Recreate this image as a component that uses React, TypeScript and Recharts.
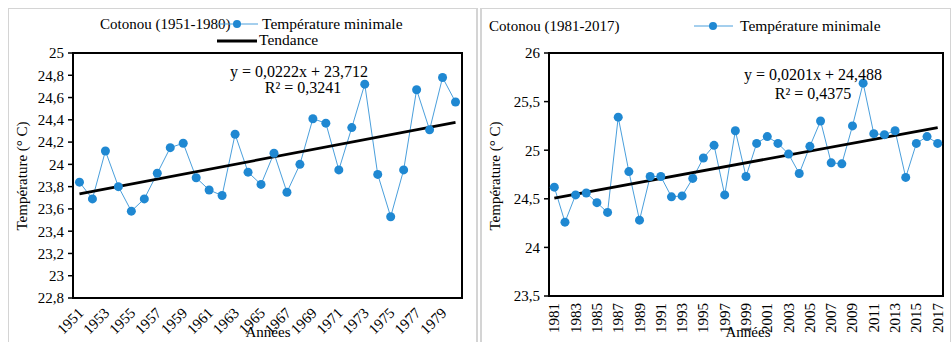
import React from 'react';
import { LineChart, Line, XAxis, YAxis, ReferenceArea, ReferenceLine } from 'recharts';

const SERIF = '"Liberation Serif", "DejaVu Serif", "Times New Roman", Times, serif';
const DOT_BLUE = '#1f88d2';
const LINE_BLUE = '#4a9fdc';

// Cotonou, annual minimum temperature (°C)
const yearsEarly = Array.from({ length: 30 }, (_, i) => 1951 + i);
const tminEarly = [
  23.84, 23.69, 24.12, 23.8, 23.58, 23.69, 23.92, 24.15, 24.19, 23.88,
  23.77, 23.72, 24.27, 23.93, 23.82, 24.1, 23.75, 24.0, 24.41, 24.37,
  23.95, 24.33, 24.72, 23.91, 23.53, 23.95, 24.67, 24.31, 24.78, 24.56,
];
const yearsLate = Array.from({ length: 37 }, (_, i) => 1981 + i);
const tminLate = [
  24.62, 24.26, 24.54, 24.56, 24.46, 24.36, 25.34, 24.78, 24.28, 24.73,
  24.73, 24.52, 24.53, 24.71, 24.92, 25.05, 24.54, 25.2, 24.73, 25.07,
  25.14, 25.07, 24.96, 24.76, 25.04, 25.3, 24.87, 24.86, 25.25, 25.69,
  25.17, 25.16, 25.2, 24.72, 25.07, 25.14, 25.07,
];

// linear fits as printed on each chart (x = 1, 2, ... n)
const fitEarly = { slope: 0.0222, intercept: 23.712 };
const fitLate = { slope: 0.0201, intercept: 24.488 };

const yTicksEarly = [22.8, 23, 23.2, 23.4, 23.6, 23.8, 24, 24.2, 24.4, 24.6, 24.8, 25];
const yTicksLate = [23.5, 24, 24.5, 25, 25.5, 26];
const xLabelsEarly = yearsEarly.filter((y) => y % 2 === 1);
const xLabelsLate = yearsLate.filter((y) => y % 2 === 1);

const fmt = (v: number) => (Number.isInteger(v) ? String(v) : v.toFixed(1).replace('.', ','));

const txt: React.CSSProperties = { fontFamily: SERIF };

const SlantTick = ({ x, y, payload }: any) => {
  const px = x + 5;
  const py = y + 16;
  return (
    <text x={px} y={py} transform={`rotate(-45 ${px} ${py})`} textAnchor="end" style={txt} fontSize={15} fill="#000">
      {payload.value}
    </text>
  );
};

const UprightTick = ({ x, y, payload }: any) => {
  const px = x + 5;
  const py = y + 7;
  return (
    <text x={px} y={py} transform={`rotate(-90 ${px} ${py})`} textAnchor="end" style={txt} fontSize={15} fill="#000">
      {payload.value}
    </text>
  );
};

interface PanelProps {
  years: number[];
  values: number[];
  fit: { slope: number; intercept: number };
  yTicks: number[];
  xLabels: number[];
  width: number;
  rightMargin: number;
  yAxisWidth: number;
  xAxisHeight: number;
  tick: (p: any) => React.ReactElement;
}

function Panel({ years, values, fit, yTicks, xLabels, width, rightMargin, yAxisWidth, xAxisHeight, tick }: PanelProps) {
  const data = years.map((year, i) => ({ year, tmin: values[i] }));
  const first = years[0];
  const last = years[years.length - 1];
  const bounds = [...years.map((y) => y - 0.5), last + 0.5];
  const yMin = yTicks[0];
  const yMax = yTicks[yTicks.length - 1];
  const n = years.length;

  return (
    <LineChart width={width} height={342} data={data} margin={{ top: 53, right: rightMargin, bottom: 0, left: 0 }} style={txt}>
      <XAxis
        xAxisId="marks"
        type="number"
        dataKey="year"
        domain={[first - 0.5, last + 0.5]}
        ticks={bounds}
        tick={false}
        tickSize={4}
        height={0}
        axisLine={{ stroke: '#000', strokeWidth: 2 }}
        tickLine={{ stroke: '#000', strokeWidth: 1.5 }}
      />
      <XAxis
        xAxisId="years"
        type="number"
        dataKey="year"
        domain={[first - 0.5, last + 0.5]}
        ticks={xLabels}
        interval={0}
        tick={tick}
        tickSize={0}
        tickMargin={0}
        tickLine={false}
        axisLine={false}
        height={xAxisHeight}
      />
      <YAxis
        domain={[yMin, yMax]}
        ticks={yTicks}
        interval={0}
        tickFormatter={fmt}
        width={yAxisWidth}
        tickSize={5}
        tickMargin={4}
        axisLine={{ stroke: '#000', strokeWidth: 2 }}
        tickLine={{ stroke: '#000', strokeWidth: 1.5 }}
        tick={{ fontFamily: SERIF, fontSize: 15, fill: '#000' }}
      />
      <ReferenceArea
        xAxisId="years"
        x1={first - 0.5}
        x2={last + 0.5}
        y1={yMin}
        y2={yMax}
        fill="none"
        stroke="#000"
        strokeWidth={2}
        ifOverflow="visible"
      />
      <Line
        xAxisId="years"
        type="linear"
        dataKey="tmin"
        stroke={LINE_BLUE}
        strokeWidth={1}
        dot={{ r: 4.5, fill: DOT_BLUE, stroke: DOT_BLUE, strokeWidth: 0 }}
        isAnimationActive={false}
      />
      <ReferenceLine
        xAxisId="years"
        segment={[
          { x: first, y: fit.slope * 1 + fit.intercept },
          { x: last, y: fit.slope * n + fit.intercept },
        ]}
        stroke="#000"
        strokeWidth={2.8}
        ifOverflow="visible"
      />
    </LineChart>
  );
}

export default function App() {
  const t = { style: txt, fill: '#000' };
  return (
    <div style={{ position: 'absolute', left: 0, top: 0, width: 952, height: 342, background: '#fff', overflow: 'hidden', fontFamily: SERIF }}>
      <div style={{ position: 'absolute', left: 8, top: 8, width: 467, height: 340, border: '1px solid #d4d4d4', borderRightWidth: 2 }} />
      <div style={{ position: 'absolute', left: 480, top: 8, width: 468, height: 340, border: '1px solid #d4d4d4', borderLeftWidth: 2 }} />

      <div style={{ position: 'absolute', left: 0, top: 0 }}>
        <Panel
          years={yearsEarly}
          values={tminEarly}
          fit={fitEarly}
          yTicks={yTicksEarly}
          xLabels={xLabelsEarly}
          width={478}
          rightMargin={16}
          yAxisWidth={73}
          xAxisHeight={44}
          tick={SlantTick}
        />
      </div>
      <div style={{ position: 'absolute', left: 478, top: 0 }}>
        <Panel
          years={yearsLate}
          values={tminLate}
          fit={fitLate}
          yTicks={yTicksLate}
          xLabels={xLabelsLate}
          width={474}
          rightMargin={9}
          yAxisWidth={71}
          xAxisHeight={46}
          tick={UprightTick}
        />
      </div>

      <svg width={952} height={342} style={{ position: 'absolute', left: 0, top: 0, pointerEvents: 'none' }}>
        {/* 1951-1980 */}
        <text x={100} y={29} fontSize={15} {...t}>Cotonou (1951-1980)</text>
        <line x1={217} y1={24} x2={258} y2={24} stroke={LINE_BLUE} strokeWidth={1} />
        <circle cx={237} cy={24} r={4} fill={DOT_BLUE} />
        <text x={262} y={29} fontSize={15.5} {...t}>Température minimale</text>
        <line x1={217} y1={41} x2={257} y2={41} stroke="#000" strokeWidth={2.8} />
        <text x={259} y={45} fontSize={15.5} {...t}>Tendance</text>
        <text x={299} y={77} fontSize={16} textAnchor="middle" {...t}>y = 0,0222x + 23,712</text>
        <text x={303} y={93} fontSize={16} textAnchor="middle" {...t}>R² = 0,3241</text>
        <text x={27} y={176} fontSize={15} textAnchor="middle" transform="rotate(-90 27 176)" {...t}>Température (° C)</text>
        <text x={268} y={337} fontSize={15} textAnchor="middle" {...t}>Années</text>

        {/* 1981-2017 */}
        <text x={489} y={31} fontSize={15} {...t}>Cotonou (1981-2017)</text>
        <line x1={694} y1={26} x2={733} y2={26} stroke={LINE_BLUE} strokeWidth={1} />
        <circle cx={713} cy={26} r={4} fill={DOT_BLUE} />
        <text x={740} y={31} fontSize={15.5} {...t}>Température minimale</text>
        <text x={813} y={80} fontSize={16} textAnchor="middle" {...t}>y = 0,0201x + 24,488</text>
        <text x={813} y={99} fontSize={16} textAnchor="middle" {...t}>R² = 0,4375</text>
        <text x={500} y={176} fontSize={15} textAnchor="middle" transform="rotate(-90 500 176)" {...t}>Température (° C)</text>
        <text x={748} y={337} fontSize={15} textAnchor="middle" {...t}>Années</text>
      </svg>
    </div>
  );
}
